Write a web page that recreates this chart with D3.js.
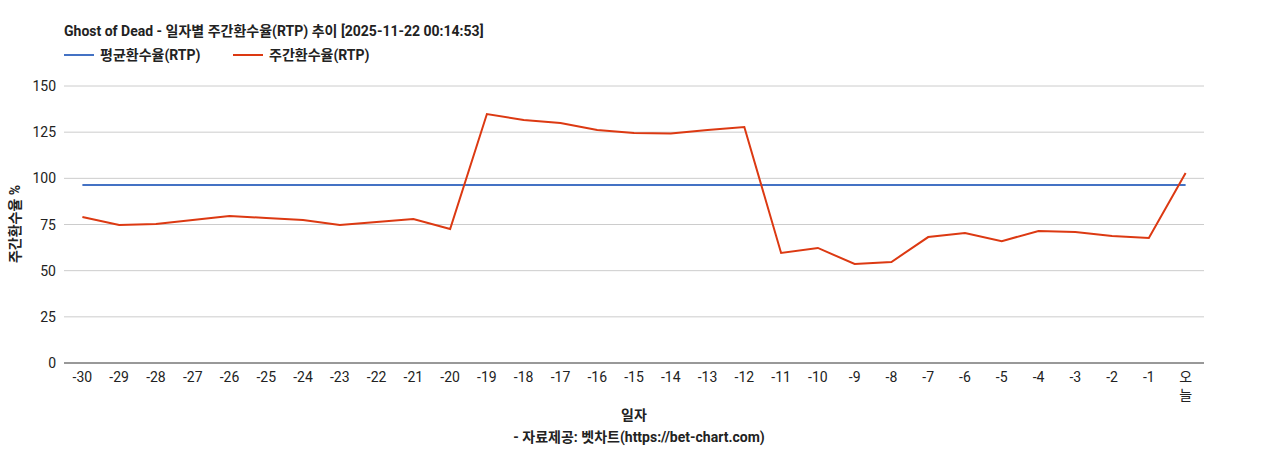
<!DOCTYPE html>
<html><head><meta charset="utf-8">
<script src="https://cdn.jsdelivr.net/npm/d3@7/dist/d3.min.js"></script>
<style>body{margin:0;background:#fff;font-family:Roboto,"Noto Sans CJK KR",sans-serif}</style>
</head><body><svg id="c" width="1268" height="450"></svg>
<script>
const categories=["-30","-29","-28","-27","-26","-25","-24","-23","-22","-21","-20","-19","-18","-17","-16","-15","-14","-13","-12","-11","-10","-9","-8","-7","-6","-5","-4","-3","-2","-1","오늘"];
const weeklyRTP=[79.1,74.7,75.3,77.4,79.6,78.5,77.4,74.7,76.4,78,72.6,134.8,131.6,130,126.2,124.5,124.3,126.2,127.8,59.6,62.3,53.6,54.7,68.2,70.4,66,71.5,70.9,68.8,67.7,102.9];
const avgRTP=categories.map(()=>96.4);
const yTicks=[0,25,50,75,100,125,150];
const svg=d3.select("#c");
const L=64,R=1204,T=86,B=363;
const x=d3.scaleBand().domain(categories).range([L,R]);
const y=d3.scaleLinear().domain([0,150]).range([B,T]);
const f="Roboto,'Noto Sans CJK KR',sans-serif";
svg.append("g").selectAll("line").data(yTicks.slice(1)).join("line")
 .attr("x1",L).attr("x2",R).attr("y1",d=>y(d)).attr("y2",d=>y(d)).attr("stroke","#ccc");
svg.append("g").selectAll("text").data(yTicks).join("text")
 .attr("x",L-8).attr("y",d=>y(d)+5).attr("text-anchor","end").attr("font-size",14).attr("fill","#222").text(d=>d);
svg.append("line").attr("x1",L).attr("x2",R).attr("y1",B).attr("y2",B).attr("stroke","#333");
const cx=d=>x(d)+x.bandwidth()/2;
const xt=svg.append("g").selectAll("text").data(categories).join("text")
 .attr("x",cx).attr("text-anchor","middle").attr("font-size",14).attr("fill","#222");
xt.each(function(d){const t=d3.select(this);
 if(d==="오늘"){t.append("tspan").attr("x",cx(d)).attr("y",382).text("오");t.append("tspan").attr("x",cx(d)).attr("y",400).text("늘");}
 else t.attr("y",382).text(d);});
const line=d3.line().x((d,i)=>cx(categories[i])).y(d=>y(d));
svg.append("path").datum(avgRTP).attr("d",line).attr("fill","none").attr("stroke","#4472c4").attr("stroke-width",2);
svg.append("path").datum(weeklyRTP).attr("d",line).attr("fill","none").attr("stroke","#dc3912").attr("stroke-width",2);
svg.append("text").attr("x",64).attr("y",36).attr("font-size",14).attr("font-weight","bold").attr("fill","#222").text("Ghost of Dead - 일자별 주간환수율(RTP) 추이 [2025-11-22 00:14:53]");
const lg=[["평균환수율(RTP)","#4472c4",64],["주간환수율(RTP)","#dc3912",233]];
lg.forEach(([t,c,x0])=>{svg.append("line").attr("x1",x0).attr("x2",x0+30).attr("y1",55).attr("y2",55).attr("stroke",c).attr("stroke-width",2);
 svg.append("text").attr("x",x0+36).attr("y",60).attr("font-size",14).attr("font-weight","bold").attr("fill","#222").text(t);});
svg.append("text").attr("transform","translate(20,224) rotate(-90)").attr("text-anchor","middle").attr("font-size",14).attr("font-weight","bold").attr("fill","#222").text("주간환수율 %");
svg.append("text").attr("x",634).attr("y",420).attr("text-anchor","middle").attr("font-size",14).attr("font-weight","bold").attr("fill","#222").text("일자");
svg.append("text").attr("x",639).attr("y",442).attr("text-anchor","middle").attr("font-size",14).attr("font-weight","bold").attr("fill","#222").text("- 자료제공: 벳차트(https://bet-chart.com)");
</script></body></html>
